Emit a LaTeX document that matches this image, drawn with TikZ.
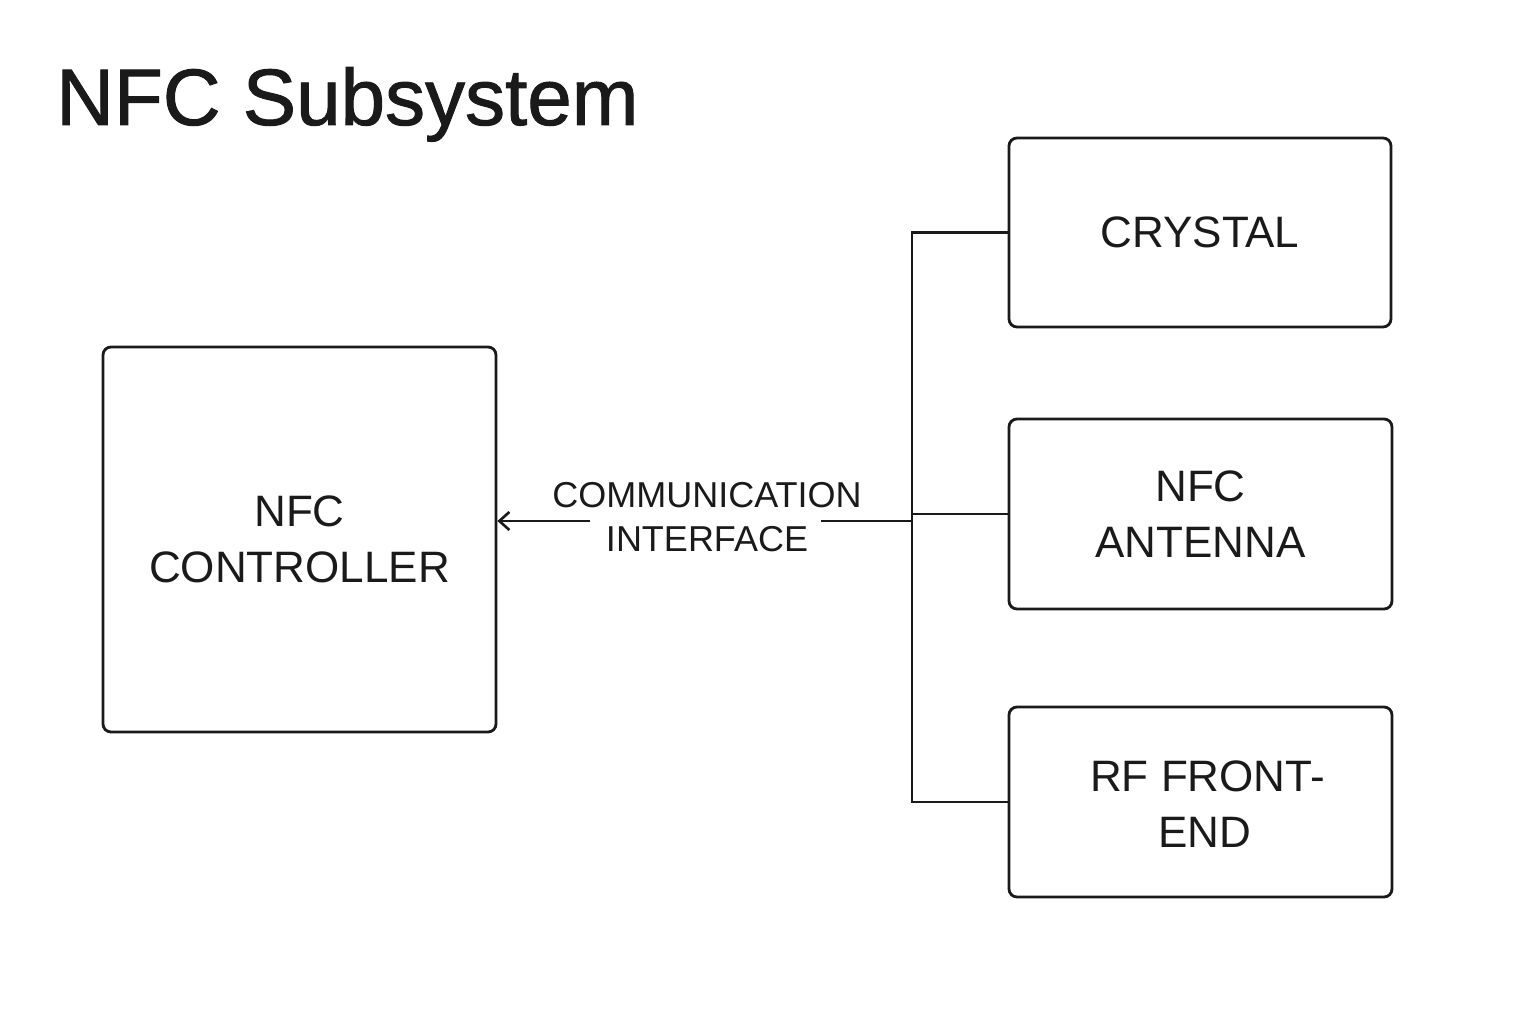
\documentclass[tikz,border=0pt]{standalone}
\usepackage{fontspec}
\setmainfont{Liberation Sans}
\newfontfamily\titlefont[FakeBold=1.2]{Liberation Sans}
\usetikzlibrary{arrows.meta}
\definecolor{ink}{HTML}{1A1A1A}
\tikzset{
  blk/.style={draw=ink, line width=2.8pt, rounded corners=8pt, inner sep=0pt,
    align=center, text=ink, font=\fontsize{44}{56}\selectfont},
  wire/.style={draw=ink, line width=2.6pt},
  lbl/.style={text=ink, align=center, inner sep=0pt, font=\fontsize{36}{44}\selectfont}
}
\begin{document}
\begin{tikzpicture}[x=1pt, y=-1pt]
\useasboundingbox (0,0) rectangle (1536,1024);
\node[anchor=base west, text=ink, inner sep=0pt, font=\titlefont\fontsize{80}{90}\selectfont] (title) at (56,125) {NFC Subsystem};
\node[blk, minimum width=393pt, minimum height=385pt] (ctrl) at (299.5,539.5) {NFC\\CONTROLLER};
\node[blk, minimum width=382pt, minimum height=189pt] (crystal) at (1200,232.5) {CRYSTAL};
\node[blk, minimum width=383pt, minimum height=190pt] (antenna) at (1200.5,514) {NFC\\ANTENNA};
\node[blk, minimum width=383pt, minimum height=190pt, text depth=0pt] (rf) at (1200.5,802) {\raisebox{-4pt}{\hspace*{14pt}RF FRONT-}\\\raisebox{-4pt}{\hspace*{8pt}END}};
\coordinate (bus) at (912,521);
\coordinate (gapR) at (821,521);
\coordinate (gapL) at (590,521);
\draw[wire] (crystal.west) -- (crystal.west -| bus) |- (rf.west);
\draw[wire] (antenna.west) -- (antenna.west -| bus);
\draw[wire] (bus) -- (gapR);
\draw[wire, -{Straight Barb[length=10pt, width=18pt]}] (gapL) -- (gapL -| ctrl.east);
\node[lbl] (iface) at (707,517) {COMMUNICATION\\INTERFACE};
\end{tikzpicture}
\end{document}
